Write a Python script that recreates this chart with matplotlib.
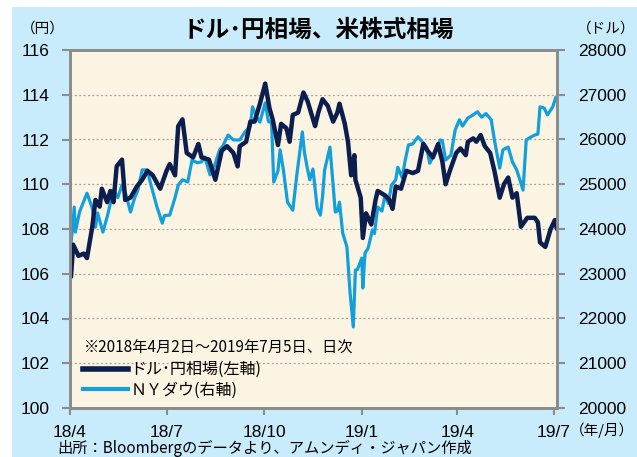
import matplotlib
matplotlib.use("Agg")
import matplotlib.pyplot as plt
from matplotlib.lines import Line2D
from matplotlib.patches import Rectangle
import pandas as pd

JP = ["Noto Sans CJK JP", "DejaVu Sans"]
NUM = "Liberation Sans"

# USD/JPY (left axis)
usdjpy_dates = [
    "2018-04-02", "2018-04-04", "2018-04-09", "2018-04-14", "2018-04-17", "2018-04-22",
    "2018-04-25", "2018-04-29", "2018-05-01", "2018-05-06", "2018-05-09", "2018-05-12",
    "2018-05-15", "2018-05-20", "2018-05-23", "2018-05-28", "2018-06-03", "2018-06-08",
    "2018-06-13", "2018-06-18", "2018-06-25", "2018-07-01", "2018-07-04", "2018-07-09",
    "2018-07-12", "2018-07-16", "2018-07-20", "2018-07-26", "2018-07-31", "2018-08-03",
    "2018-08-10", "2018-08-16", "2018-08-22", "2018-08-27", "2018-09-02", "2018-09-06",
    "2018-09-08", "2018-09-14", "2018-09-18", "2018-09-22", "2018-09-27", "2018-10-02",
    "2018-10-06", "2018-10-09", "2018-10-14", "2018-10-17", "2018-10-22", "2018-10-25",
    "2018-10-28", "2018-11-02", "2018-11-07", "2018-11-11", "2018-11-18", "2018-11-21",
    "2018-11-25", "2018-11-30", "2018-12-05", "2018-12-09", "2018-12-11", "2018-12-16",
    "2018-12-19", "2018-12-22", "2018-12-25", "2018-12-26", "2018-12-31", "2019-01-02",
    "2019-01-05", "2019-01-10", "2019-01-14", "2019-01-16", "2019-01-23", "2019-01-27",
    "2019-01-30", "2019-02-02", "2019-02-07", "2019-02-12", "2019-02-18", "2019-02-23",
    "2019-02-28", "2019-03-04", "2019-03-09", "2019-03-14", "2019-03-18", "2019-03-21",
    "2019-03-25", "2019-03-31", "2019-04-04", "2019-04-09", "2019-04-11", "2019-04-16",
    "2019-04-19", "2019-04-23", "2019-04-27", "2019-05-02", "2019-05-06", "2019-05-11",
    "2019-05-15", "2019-05-19", "2019-05-23", "2019-05-27", "2019-05-31", "2019-06-06",
    "2019-06-13", "2019-06-16", "2019-06-18", "2019-06-23", "2019-06-28", "2019-07-02",
    "2019-07-04", "2019-07-05",
]
usdjpy = [
    105.9, 107.3, 106.8, 106.9, 106.7, 108.1,
    109.3, 109.0, 109.8, 109.2, 109.7, 109.2,
    110.8, 111.1, 109.3, 109.4, 109.9, 110.2,
    110.6, 110.4, 109.8, 110.6, 110.9, 110.4,
    112.6, 112.9, 111.4, 111.2, 111.8, 111.2,
    111.1, 110.2, 111.5, 111.7, 111.4, 110.8,
    111.7, 111.9, 112.8, 112.8, 113.6, 114.5,
    113.4, 112.9, 111.75, 112.7, 112.5, 111.9,
    113.1, 113.2, 114.1, 113.7, 112.6, 113.2,
    113.8, 113.5, 112.8, 113.2, 113.6, 112.7,
    111.9, 110.4, 111.3, 110.2, 109.4, 107.6,
    108.7, 108.2, 109.3, 109.7, 109.5, 109.3,
    108.9, 109.9, 109.8, 110.6, 110.5, 110.6,
    111.8, 111.5, 111.2, 111.8, 111.0, 110.0,
    110.6, 111.4, 111.6, 111.3, 111.9, 112.05,
    111.9, 112.2, 111.7, 111.4, 110.6, 109.4,
    110.0, 110.3, 109.4, 109.6, 108.1, 108.5,
    108.5, 108.3, 107.4, 107.2, 108.0, 108.4,
    108.0, 108.4,
]

# NY Dow (right axis)
dow_dates = [
    "2018-04-02", "2018-04-05", "2018-04-06", "2018-04-10", "2018-04-17", "2018-04-22",
    "2018-04-25", "2018-04-27", "2018-05-02", "2018-05-06", "2018-05-12", "2018-05-16",
    "2018-05-20", "2018-05-24", "2018-05-28", "2018-06-01", "2018-06-04", "2018-06-08",
    "2018-06-13", "2018-06-15", "2018-06-22", "2018-06-27", "2018-06-29", "2018-07-04",
    "2018-07-09", "2018-07-12", "2018-07-16", "2018-07-21", "2018-07-25", "2018-07-30",
    "2018-08-03", "2018-08-06", "2018-08-11", "2018-08-15", "2018-08-20", "2018-08-23",
    "2018-08-28", "2018-09-02", "2018-09-08", "2018-09-13", "2018-09-18", "2018-09-20",
    "2018-09-24", "2018-09-27", "2018-10-02", "2018-10-05", "2018-10-08", "2018-10-10",
    "2018-10-14", "2018-10-16", "2018-10-19", "2018-10-23", "2018-10-28", "2018-11-01",
    "2018-11-06", "2018-11-08", "2018-11-11", "2018-11-13", "2018-11-16", "2018-11-20",
    "2018-11-23", "2018-11-25", "2018-11-27", "2018-12-02", "2018-12-05", "2018-12-07",
    "2018-12-09", "2018-12-11", "2018-12-14", "2018-12-18", "2018-12-21", "2018-12-24",
    "2018-12-26", "2018-12-28", "2019-01-01", "2019-01-02", "2019-01-04", "2019-01-07",
    "2019-01-11", "2019-01-13", "2019-01-16", "2019-01-20", "2019-01-23", "2019-01-26",
    "2019-01-29", "2019-02-02", "2019-02-04", "2019-02-08", "2019-02-11", "2019-02-14",
    "2019-02-18", "2019-02-23", "2019-02-27", "2019-03-03", "2019-03-06", "2019-03-11",
    "2019-03-16", "2019-03-18", "2019-03-21", "2019-03-26", "2019-03-30", "2019-04-03",
    "2019-04-06", "2019-04-11", "2019-04-16", "2019-04-20", "2019-04-24", "2019-04-28",
    "2019-05-03", "2019-05-06", "2019-05-11", "2019-05-14", "2019-05-19", "2019-05-23",
    "2019-05-27", "2019-05-30", "2019-06-02", "2019-06-05", "2019-06-09", "2019-06-13",
    "2019-06-16", "2019-06-18", "2019-06-22", "2019-06-25", "2019-06-30", "2019-07-03",
    "2019-07-05",
]
dow = [
    23690, 24490, 23930, 24380, 24800, 24470,
    24040, 24360, 23930, 24270, 24870, 24700,
    24980, 24750, 24380, 24700, 24870, 25320,
    25320, 25100, 24490, 24130, 24300, 24310,
    24700, 24980, 25100, 25050, 25540, 25480,
    25500, 25610, 25210, 25400, 25770, 25850,
    26100, 25990, 25990, 26170, 26300, 26730,
    26500, 26390, 26820, 26400, 26380, 25050,
    25300, 25770, 25340, 24600, 24420, 25250,
    26170, 25700, 25320, 25100, 25340, 24470,
    24310, 24720, 25320, 25830, 24980, 24380,
    24400, 24600, 23910, 23600, 22570, 21810,
    23080, 23100, 23350, 22680, 23460, 23570,
    23980, 23900, 24490, 24400, 24760, 24570,
    24980, 25100, 25380, 25150, 25540, 25880,
    25900, 26060, 25950, 25830, 25470, 25700,
    25990, 25970, 25540, 25650, 26210, 26440,
    26300, 26480, 26550, 26620, 26500, 26580,
    26440, 25990, 25360, 25770, 25830, 25500,
    25320, 25100, 24870, 25990, 26050, 26100,
    26120, 26730, 26700, 26550, 26730, 26950,
    26950,
]

xtick_dates = ["2018-04-01", "2018-07-01", "2018-10-01", "2019-01-01", "2019-04-01", "2019-07-01"]
xtick_labels = ["18/4", "18/7", "18/10", "19/1", "19/4", "19/7"]
left_ticks = [100, 102, 104, 106, 108, 110, 112, 114, 116]
right_ticks = [20000, 21000, 22000, 23000, 24000, 25000, 26000, 27000, 28000]

NAVY = "#0B1E4E"
SKY = "#12A0DC"
GRAY = "#8C8C8C"
BG = "#C8ECFB"
CREAM = "#FBF4E2"

fig = plt.figure(figsize=(6.37, 4.57), dpi=100)
fig.patch.set_facecolor("white")
fig.add_artist(Rectangle((12 / 637, 0), 1, 450 / 457, transform=fig.transFigure,
                         facecolor=BG, edgecolor="none", zorder=-10))

ax2 = fig.add_axes([70 / 637, 49 / 457, 487 / 637, 358 / 457])
ax = ax2.twinx()
# left axis on top so the yen line is drawn over the Dow line
ax.yaxis.tick_left()
ax2.yaxis.tick_right()
ax.set_zorder(ax2.get_zorder() + 1)
ax.patch.set_visible(False)
ax2.set_facecolor(CREAM)

d_jpy = pd.to_datetime(usdjpy_dates)
d_dow = pd.to_datetime(dow_dates)
ax2.plot(d_dow, dow, color=SKY, lw=2.3, solid_joinstyle="round")
ax.plot(d_jpy, usdjpy, color=NAVY, lw=3.2, solid_joinstyle="round")

xlim = (pd.Timestamp("2018-04-01"), pd.Timestamp("2019-07-04"))
for a in (ax, ax2):
    a.set_xlim(*xlim)
    for s in a.spines.values():
        s.set_color(GRAY)
        s.set_linewidth(2)

ax.set_ylim(100, 116)
ax.set_yticks(left_ticks)
ax.set_yticklabels([str(v) for v in left_ticks], fontname=NUM, fontsize=12.5)
ax2.set_ylim(20000, 28000)
ax2.set_yticks(right_ticks)
ax2.set_yticklabels([str(v) for v in right_ticks], fontname=NUM, fontsize=12.5)

ax2.set_xticks(pd.to_datetime(xtick_dates))
ax2.set_xticklabels(xtick_labels, fontname=NUM, fontsize=12.5)
ax.tick_params(axis="x", bottom=False, labelbottom=False)
ax2.tick_params(axis="x", direction="out", length=5, width=1.5, color=GRAY, pad=7)
ax.tick_params(axis="y", direction="out", length=6, width=1.5, color=GRAY, pad=9)
ax2.tick_params(axis="y", direction="out", length=6, width=1.5, color=GRAY, pad=9)

for v in right_ticks[1:-1]:
    ax2.axhline(v, color="#A0A0A0", lw=0.9, ls=(0, (1.5, 2)), zorder=0.5)

fig.text(0.5, 1 - 30 / 457, "ドル･円相場、米株式相場", ha="center", va="center",
         fontsize=17, fontweight="bold", family=JP)
fig.text(43 / 637, 1 - 29 / 457, "（円）", ha="center", va="center", fontsize=10.5, family=JP)
fig.text(606 / 637, 1 - 29 / 457, "（ドル）", ha="center", va="center", fontsize=10.5, family=JP)
fig.text(602 / 637, 1 - 430 / 457, "（年/月）", ha="center", va="center", fontsize=10.5, family=JP)
fig.text(57 / 637, 1 - 440 / 457, "出所：Bloombergのデータより、アムンディ・ジャパン作成",
         ha="left", va="top", fontsize=11, family=JP)

ax.text((84 - 70) / 487, 1 - (348 - 50) / 358,
        "※2018年4月2日～2019年7月5日、日次", transform=ax.transAxes,
        ha="left", va="center", fontsize=11, family=JP)

handles = [Line2D([], [], color=NAVY, lw=4), Line2D([], [], color=SKY, lw=3)]
ax.legend(handles, ["ドル･円相場(左軸)", "ＮＹダウ(右軸)"],
          loc="upper left", bbox_to_anchor=((80 - 70) / 487, 1 - (358 - 50) / 358),
          frameon=False, handlelength=2.8, handletextpad=0.15, labelspacing=0.2,
          borderaxespad=0, borderpad=0.2, prop={"family": JP, "size": 11.5})

fig.savefig("out.png", dpi=100, facecolor=fig.get_facecolor())
